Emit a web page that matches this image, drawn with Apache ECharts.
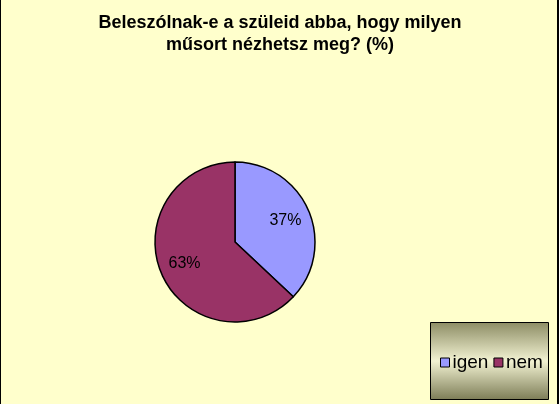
<!DOCTYPE html>
<html>
<head>
<meta charset="utf-8">
<script src="https://cdn.jsdelivr.net/npm/echarts@6/dist/echarts.min.js"></script>
<style>
  html, body { margin: 0; padding: 0; background: #FFFFCC; }
  #chart { width: 559px; height: 404px; }
</style>
</head>
<body>
<div id="chart"></div>
<script>
var titleText = 'Beleszólnak-e a szüleid abba, hogy milyen\nműsort nézhetsz meg? (%)';
var categories = ['igen', 'nem'];
var values = [37, 63];
var colors = ['#9999FF', '#993366'];

var chart = echarts.init(document.getElementById('chart'));

var pieData = categories.map(function (name, i) {
    return { name: name, value: values[i], itemStyle: { color: colors[i] } };
});

var option = {
    backgroundColor: '#FFFFCC',
    animation: false,
    title: {
        text: titleText,
        left: 275,
        top: 7,
        textAlign: 'center',
        textStyle: {
            fontFamily: 'Liberation Sans, Arial, sans-serif',
            fontSize: 18,
            fontWeight: 'bold',
            color: '#000',
            lineHeight: 22
        }
    },
    graphic: [
        {
            type: 'rect',
            shape: { x: 430.5, y: 322.5, width: 118, height: 77 },
            style: {
                fill: new echarts.graphic.LinearGradient(0, 0, 0, 1, [
                    { offset: 0, color: '#8C8C64' },
                    { offset: 0.5, color: '#F2F2D2' },
                    { offset: 1, color: '#7C7C56' }
                ]),
                stroke: '#000',
                lineWidth: 1
            },
            z: 0
        },
        { type: 'rect', shape: { x: 0, y: 0, width: 1, height: 404 }, style: { fill: '#000' } },
        { type: 'rect', shape: { x: 557, y: 0, width: 2, height: 404 }, style: { fill: '#000' } }
    ],
    legend: {
        data: categories,
        left: 435,
        top: 348,
        itemWidth: 9,
        itemHeight: 9,
        itemGap: 5,
        icon: 'rect',
        z: 10,
        itemStyle: { borderColor: '#000', borderWidth: 1 },
        textStyle: {
            fontFamily: 'Liberation Sans, Arial, sans-serif',
            fontSize: 19,
            color: '#000',
            padding: [0, 0, 0, -2]
        }
    },
    series: [
        {
            type: 'pie',
            center: [235, 242],
            radius: [0, 80],
            startAngle: 90,
            clockwise: true,
            label: { show: false },
            labelLine: { show: false },
            itemStyle: { borderColor: '#000', borderWidth: 1.5 },
            emphasis: { disabled: true },
            data: pieData
        },
        {
            type: 'pie',
            center: [235, 242],
            radius: [24, 80],
            startAngle: 90,
            clockwise: true,
            silent: true,
            legendHoverLink: false,
            itemStyle: { color: 'transparent', borderWidth: 0 },
            label: {
                show: true,
                position: 'inside',
                formatter: '{c}%',
                fontFamily: 'Liberation Sans, Arial, sans-serif',
                fontSize: 16,
                color: '#000'
            },
            labelLine: { show: false },
            data: categories.map(function (name, i) {
                return { name: name + ' ', value: values[i] };
            })
        }
    ]
};

chart.setOption(option);
</script>
</body>
</html>
